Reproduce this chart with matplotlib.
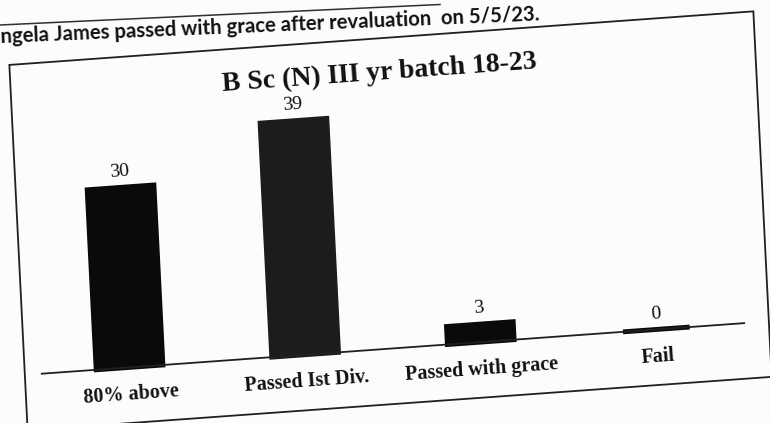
import numpy as np
import matplotlib
matplotlib.use('Agg')
import matplotlib.pyplot as plt
from matplotlib.transforms import Affine2D
from matplotlib.patches import Rectangle
from matplotlib.lines import Line2D

# chart data
categories = ['80% above', 'Passed Ist Div.', 'Passed with grace', 'Fail']
counts = [30, 39, 3, 0]
bar_colors = ['#0a0a0a', '#1c1c1c', '#0a0a0a', '#0a0a0a']
title = 'B Sc (N) III yr batch 18-23'
# first letter is cut off by the scan edge in the reference
note = 'ngela James passed with grace after revaluation  on 5/5/23.'

W, H, DPI = 770, 423, 100
fig = plt.figure(figsize=(W / DPI, H / DPI), dpi=DPI)
fig.patch.set_facecolor('#fcfcfc')

# the page was photographed at a slant: shear everything about the centre (pixels)
cx, cy = 385, 211.5
skew = (Affine2D().translate(-cx, -cy)
        + Affine2D(np.array([[1, -0.05, 0], [0.072, 1, 0], [0, 0, 1]]))
        + Affine2D().translate(cx, cy))
ang = np.degrees(np.arctan(0.072))

ax = fig.add_axes([34.9 / W, 74.5 / H, 702.4 / W, 300 / H])
ax.set_xlim(-0.5, 3.5)
ax.set_ylim(0, 50)
ax.axis('off')
ax.patch.set_visible(False)
td = ax.transData + skew

x = np.arange(len(categories))
ax.bar(x, counts, width=0.38, color=bar_colors, edgecolor=bar_colors,
       linewidth=3.5, transform=td, clip_on=False)
ax.plot(ax.get_xlim(), [0, 0], color='#202020', lw=1.3, transform=td, clip_on=False)

for i, v in enumerate(counts):
    ax.text(i, v + 2.6, str(v), transform=td, ha='center', va='center',
            rotation=ang, fontsize=14, family='Liberation Serif', color='#0c0c0c')

for i, c in enumerate(categories):
    ax.text(i, -4.5, c, transform=td, ha='center', va='center', rotation=ang,
            fontsize=14.5, fontweight='bold', family='Liberation Serif', color='#111111')

ax.text(0.5, 45.8 / 50, title, transform=ax.transAxes + skew, ha='center', va='center',
        rotation=ang, fontsize=20, fontweight='bold', family='Liberation Serif',
        color='#111111')

# chart border
box = Rectangle((18, 19), 744, 365.5, transform=skew, fill=False, lw=1.3, ec='#202020')
fig.add_artist(box)

# note row above the chart
pix = Affine2D()
fig.add_artist(Line2D([0, 440], [398, 418.5], transform=pix, color='#303030', lw=1.1))
fig.text(1, 380, note, transform=pix, ha='left', va='baseline', rotation=2.4,
         rotation_mode='anchor', fontsize=14.6, fontweight='bold', family='Lato',
         color='#111111')

fig.savefig('out.png', dpi=DPI, facecolor=fig.get_facecolor())
